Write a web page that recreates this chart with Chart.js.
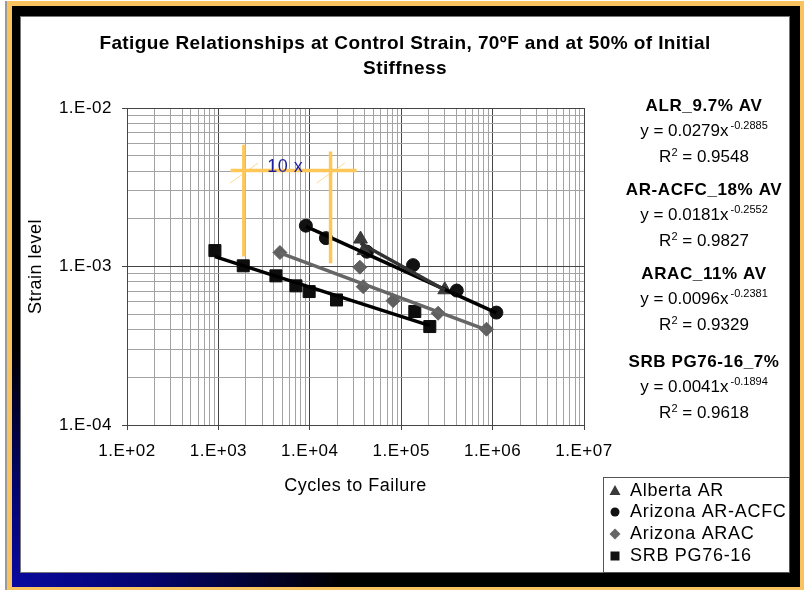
<!DOCTYPE html>
<html lang="en">
<head>
<meta charset="UTF-8">
<title>Fatigue Relationships at Control Strain</title>
<script src="https://cdn.jsdelivr.net/npm/chart.js@4"></script>
<style>
  body { margin: 0; width: 804px; height: 590px; background: #fff; position: relative; overflow: hidden; }
  #frame { position: absolute; left: 5px; top: 1px; width: 799px; height: 589px; background: #f9c35f; border-left: 2px solid #9a9a9a; box-sizing: border-box; }
  #dark { position: absolute; left: 12px; top: 6px; width: 788px; height: 581px; background-color: #000;
          background-image: radial-gradient(ellipse 330px 240px at 0% 100%, #0a0aa0 0%, #040470 40%, #000 100%); }
  #panel { position: absolute; left: 20px; top: 16px; width: 770px; height: 557px; background: #fff; border: 1px solid #777; box-sizing: border-box; }
  canvas { position: absolute; left: 0; top: 0; letter-spacing: 0.5px; }
</style>
</head>
<body>
<div id="frame"></div>
<div id="dark"></div>
<div id="panel"></div>
<canvas id="fatigue" width="804" height="590"></canvas>

<script>
// measured points (cycles, strain)
const albertaX = [35900, 39000, 299700];
const albertaY = [1.49e-3, 1.26e-3, 7.13e-4];
const acfcX = [9060, 15000, 42100, 134900, 405700, 1100000];
const acfcY = [1.81e-3, 1.51e-3, 1.24e-3, 1.02e-3, 7.05e-4, 5.12e-4];
const aracX = [4710, 35300, 38400, 81600, 253500, 857000];
const aracY = [1.225e-3, 9.9e-4, 7.46e-4, 6.09e-4, 5.07e-4, 4.02e-4];
const srbX = [916, 1870, 4260, 7050, 9840, 19600, 140900, 205600];
const srbY = [1.26e-3, 1.01e-3, 8.73e-4, 7.55e-4, 6.95e-4, 6.15e-4, 5.2e-4, 4.18e-4];

// power trendline end points
const albertaTrendX = [35900, 299700];
const albertaTrendY = [1.40e-3, 7.1e-4];
const acfcTrendX = [9060, 1100000];
const acfcTrendY = [1.79e-3, 5.1e-4];
const aracTrendX = [4710, 857000];
const aracTrendY = [1.22e-3, 3.98e-4];
const srbTrendX = [916, 205600];
const srbTrendY = [1.155e-3, 4.24e-4];

// orange "10 x" marker
const markAX = [1900, 1900];
const markAY = [5.86e-3, 1.156e-3];
const markBX = [16870, 16870];
const markBY = [5.32e-3, 1.05e-3];
const markHX = [1360, 32500];
const markHY = [4.04e-3, 4.04e-3];
const slashAX = [1337, 2730];
const slashAY = [3.36e-3, 4.5e-3];
const slashBX = [11860, 24200];
const slashBY = [3.36e-3, 4.5e-3];
const markLabel = '10 x';
const markLabelX = 3420;
const markLabelY = 4.22e-3;

// axes
const xTickLabels = ['1.E+02', '1.E+03', '1.E+04', '1.E+05', '1.E+06', '1.E+07'];
const yTickLabels = ['1.E-04', '1.E-03', '1.E-02'];

// legend and fit equations
const seriesNames = ['Alberta AR', 'Arizona AR-ACFC', 'Arizona ARAC', 'SRB PG76-16'];
const fitNames = ['ALR_9.7% AV', 'AR-ACFC_18% AV', 'ARAC_11% AV', 'SRB PG76-16_7%'];
const fitCoef = ['0.0279', '0.0181', '0.0096', '0.0041'];
const fitExp = ['-0.2885', '-0.2552', '-0.2381', '-0.1894'];
const fitR2 = ['0.9548', '0.9827', '0.9329', '0.9618'];

const FONT = "'Liberation Sans', Arial, sans-serif";
Chart.defaults.font.family = FONT;
Chart.defaults.color = '#000';

function pts(xs, ys) {
    return xs.map((x, i) => ({x: x, y: ys[i]}));
}

function logTicks(minExp, maxExp) {
    const t = [];
    for (let e = minExp; e < maxExp; e++) {
        for (let k = 1; k < 10; k++) t.push({value: k * Math.pow(10, e), major: k === 1});
    }
    t.push({value: Math.pow(10, maxExp), major: true});
    return t;
}

function markerSet(xs, ys, style, radius, color) {
    return {
        data: pts(xs, ys), pointStyle: style, pointRadius: radius,
        backgroundColor: color, borderColor: color, borderWidth: 1, showLine: false
    };
}

function lineSet(xs, ys, color, width, order) {
    return {
        data: pts(xs, ys), showLine: true, pointRadius: 0, borderColor: color,
        borderWidth: width, fill: false, order: order || 0
    };
}

const orange = '#ffc658';

function spacing(ctx, px) {
    if ('letterSpacing' in ctx) ctx.letterSpacing = px + 'px';
}

// text, legend and "10 x" label
const decor = {
    id: 'decor',
    afterDatasetsDraw(chart) {
        const ctx = chart.ctx;
        const xs = chart.scales.x, ys = chart.scales.y;
        ctx.save();
        spacing(ctx, 0.5);
        ctx.font = '18px ' + FONT;
        ctx.fillStyle = '#1f1fa0';
        ctx.textAlign = 'left';
        ctx.textBaseline = 'middle';
        ctx.fillText(markLabel, xs.getPixelForValue(markLabelX), ys.getPixelForValue(markLabelY));
        ctx.restore();
    },
    afterDraw(chart) {
        const ctx = chart.ctx;
        ctx.save();
        ctx.fillStyle = '#000';
        ctx.textBaseline = 'middle';
        ctx.textAlign = 'center';

        // title
        spacing(ctx, 0.4);
        ctx.font = 'bold 19px ' + FONT;
        ctx.fillText('Fatigue Relationships at Control Strain, 70\u00baF and at 50% of Initial', 405, 44);
        ctx.fillText('Stiffness', 405, 69);

        // fit equations on the right
        const cx = 704;
        const tops = [106, 190, 274, 362];
        fitNames.forEach((name, i) => {
            const y0 = tops[i];
            ctx.textAlign = 'center';
            spacing(ctx, 0.6);
            ctx.font = 'bold 17px ' + FONT;
            ctx.fillText(name, cx, y0);
            spacing(ctx, 0);

            ctx.textAlign = 'left';
            const main = 'y = ' + fitCoef[i] + 'x';
            ctx.font = '17px ' + FONT;
            const wMain = ctx.measureText(main).width;
            ctx.font = '11px ' + FONT;
            const wSup = ctx.measureText(fitExp[i]).width;
            let x = cx - (wMain + wSup + 2) / 2;
            ctx.font = '17px ' + FONT;
            ctx.fillText(main, x, y0 + 25);
            ctx.font = '11px ' + FONT;
            ctx.fillText(fitExp[i], x + wMain + 2, y0 + 20);

            const r1 = 'R', r2 = ' = ' + fitR2[i];
            ctx.font = '17px ' + FONT;
            const wR = ctx.measureText(r1).width, wR2 = ctx.measureText(r2).width;
            ctx.font = '11px ' + FONT;
            const w2 = ctx.measureText('2').width;
            x = cx - (wR + w2 + wR2) / 2;
            ctx.font = '17px ' + FONT;
            ctx.fillText(r1, x, y0 + 51);
            ctx.fillText(r2, x + wR + w2, y0 + 51);
            ctx.font = '11px ' + FONT;
            ctx.fillText('2', x + wR, y0 + 47);
        });

        // legend box
        ctx.strokeStyle = '#555';
        ctx.lineWidth = 1;
        ctx.strokeRect(603.5, 477.5, 186, 95);
        const rows = [491, 512, 534, 556];
        const mx = 615;
        spacing(ctx, 0.7);
        ctx.font = '18px ' + FONT;
        ctx.textAlign = 'left';
        seriesNames.forEach((name, i) => {
            const y = rows[i];
            ctx.beginPath();
            if (i === 0) {
                ctx.fillStyle = '#3a3a3a';
                ctx.moveTo(mx, y - 6); ctx.lineTo(mx + 5.5, y + 4); ctx.lineTo(mx - 5.5, y + 4);
            } else if (i === 1) {
                ctx.fillStyle = '#111';
                ctx.arc(mx, y, 4.5, 0, Math.PI * 2);
            } else if (i === 2) {
                ctx.fillStyle = '#666';
                ctx.moveTo(mx, y - 5.5); ctx.lineTo(mx + 5.5, y); ctx.lineTo(mx, y + 5.5); ctx.lineTo(mx - 5.5, y);
            } else {
                ctx.fillStyle = '#111';
                ctx.rect(mx - 4.5, y - 4.5, 9, 9);
            }
            ctx.closePath();
            ctx.fill();
            ctx.fillStyle = '#000';
            ctx.fillText(name, 630, y);
        });
        ctx.restore();
    }
};

const gridColor = c => (c.tick && c.tick.major) ? '#444' : '#a3a3a3';
const tickColor = c => (c.tick && c.tick.major) ? '#444' : 'rgba(0,0,0,0)';

new Chart(document.getElementById('fatigue'), {
    type: 'scatter',
    data: {
        datasets: [
            lineSet(markAX, markAY, orange, 3.5, -2),
            lineSet(markBX, markBY, orange, 3.5, -2),
            lineSet(markHX, markHY, orange, 3.5, -2),
            lineSet(slashAX, slashAY, '#ffd898', 1, -2),
            lineSet(slashBX, slashBY, '#ffd898', 1, -2),
            lineSet(albertaTrendX, albertaTrendY, '#333', 3.5, -1),
            lineSet(acfcTrendX, acfcTrendY, '#000', 3.5, -1),
            lineSet(aracTrendX, aracTrendY, '#666', 3.5, -1),
            lineSet(srbTrendX, srbTrendY, '#000', 3.5, -1),
            markerSet(albertaX, albertaY, 'triangle', 8, '#3a3a3a'),
            markerSet(acfcX, acfcY, 'circle', 6.5, '#111'),
            markerSet(aracX, aracY, 'rectRot', 7, '#5f5f5f'),
            markerSet(srbX, srbY, 'rect', 8.5, '#0d0d0d')
        ]
    },
    options: {
        responsive: false,
        animation: false,
        events: [],
        layout: { padding: { left: 20, right: 220, top: 108, bottom: 93 } },
        plugins: { legend: { display: false }, title: { display: false }, tooltip: { enabled: false } },
        scales: {
            x: {
                type: 'logarithmic',
                min: 100, max: 1e7,
                afterBuildTicks: s => { s.ticks = logTicks(2, 7); },
                afterFit: s => { s.height = 72; },
                border: { display: true, color: '#444', width: 1 },
                grid: { color: gridColor, tickColor: tickColor, tickLength: 5, lineWidth: 1 },
                ticks: {
                    autoSkip: false, maxRotation: 0, padding: 11,
                    font: { size: 17 },
                    callback: (v, i, t) => t[i].major ? xTickLabels[Math.round(Math.log10(v)) - 2] : ''
                },
                title: { display: true, text: 'Cycles to Failure', font: { size: 18 }, padding: { top: 0, bottom: 0 } }
            },
            y: {
                type: 'logarithmic',
                min: 1e-4, max: 1e-2,
                afterBuildTicks: s => { s.ticks = logTicks(-4, -2); },
                afterFit: s => { s.width = 107; },
                border: { display: true, color: '#444', width: 1 },
                grid: { color: gridColor, tickColor: tickColor, tickLength: 5, lineWidth: 1 },
                ticks: {
                    autoSkip: false, padding: 10,
                    font: { size: 17 },
                    callback: (v, i, t) => t[i].major ? yTickLabels[Math.round(Math.log10(v)) + 4] : ''
                },
                title: { display: true, text: 'Strain level', font: { size: 18 }, padding: { top: 5, bottom: 0 } }
            }
        }
    },
    plugins: [decor]
});
</script>
</body>
</html>
